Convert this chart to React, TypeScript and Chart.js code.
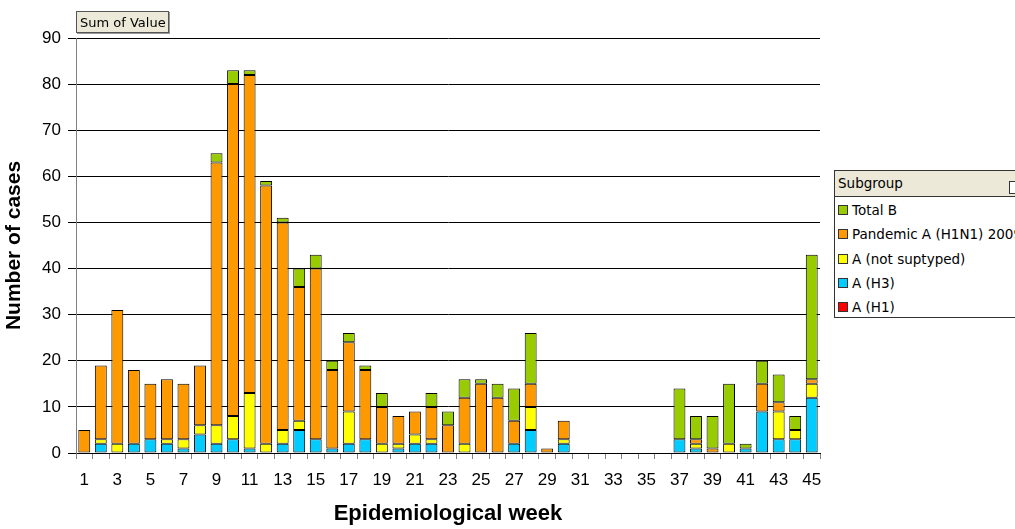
import React, { useEffect, useRef } from "react";
import { Chart, registerables } from "chart.js";

Chart.register(...registerables);

const weeks = [
  "1", "2", "3", "4", "5", "6", "7", "8", "9", "10",
  "11", "12", "13", "14", "15", "16", "17", "18", "19", "20",
  "21", "22", "23", "24", "25", "26", "27", "28", "29", "30",
  "31", "32", "33", "34", "35", "36", "37", "38", "39", "40",
  "41", "42", "43", "44", "45",
];

const aH1 = [
  0, 0, 0, 0, 0, 0, 0, 0, 0, 0,
  0, 0, 0, 0, 0, 0, 0, 0, 0, 0,
  0, 0, 0, 0, 0, 0, 0, 0, 0, 0,
  0, 0, 0, 0, 0, 0, 0, 0, 0, 0,
  0, 0, 0, 0, 0,
];
const aH3 = [
  0, 2, 0, 2, 3, 2, 1, 4, 2, 3,
  1, 0, 2, 5, 3, 1, 2, 3, 0, 1,
  2, 2, 0, 0, 0, 0, 2, 5, 0, 2,
  0, 0, 0, 0, 0, 0, 3, 1, 0, 0,
  1, 9, 3, 3, 12,
];
const aNotSubtyped = [
  0, 1, 2, 0, 0, 1, 2, 2, 4, 5,
  12, 2, 3, 2, 0, 0, 7, 0, 2, 1,
  2, 1, 0, 2, 0, 0, 0, 5, 0, 1,
  0, 0, 0, 0, 0, 0, 0, 1, 0, 2,
  0, 0, 6, 2, 3,
];
const pandemic = [
  5, 16, 29, 16, 12, 13, 12, 13, 57, 72,
  69, 56, 45, 29, 37, 17, 15, 15, 8, 6,
  5, 7, 6, 10, 15, 12, 5, 5, 1, 4,
  0, 0, 0, 0, 0, 0, 0, 1, 1, 0,
  0, 6, 2, 0, 1,
];
const totalB = [
  0, 0, 0, 0, 0, 0, 0, 0, 2, 3,
  1, 1, 1, 4, 3, 2, 2, 1, 3, 0,
  0, 3, 3, 4, 1, 3, 7, 11, 0, 0,
  0, 0, 0, 0, 0, 0, 11, 5, 7, 13,
  1, 5, 6, 3, 27,
];

const yTicks = [0, 10, 20, 30, 40, 50, 60, 70, 80, 90];

const seriesNames = ["A (H1)", "A (H3)", "A (not suptyped)", "Pandemic A (H1N1) 2009", "Total B"];
const seriesColors = ["#FF0000", "#00CCFF", "#FFFF00", "#FF9900", "#99CC00"];
const seriesData = [aH1, aH3, aNotSubtyped, pandemic, totalB];

const FONT = "'Liberation Sans', Arial, sans-serif";
const UI_FONT = "'DejaVu Sans', Tahoma, sans-serif";

export default function App() {
  const ref = useRef<HTMLCanvasElement | null>(null);

  useEffect(() => {
    if (!ref.current) return;
    const chart = new Chart(ref.current, {
      type: "bar",
      data: {
        labels: weeks,
        datasets: seriesData.map((d, i) => ({
          label: seriesNames[i],
          data: d.map((v) => (v === 0 ? null : v)),
          backgroundColor: seriesColors[i],
          borderColor: "#000000",
          borderWidth: 1,
          borderSkipped: false,
          categoryPercentage: 1,
          barPercentage: 0.72,
        })),
      },
      options: {
        animation: false,
        responsive: false,
        maintainAspectRatio: false,
        layout: { padding: { left: 0, top: 38, right: 195, bottom: 0 } },
        plugins: {
          legend: { display: false },
          tooltip: { enabled: false },
        },
        scales: {
          x: {
            stacked: true,
            grid: {
              drawOnChartArea: false,
              offset: true,
              tickLength: 6,
              color: "#808080",
            },
            border: { color: "#000000", width: 1 },
            ticks: {
              autoSkip: false,
              maxRotation: 0,
              minRotation: 0,
              padding: 11,
              color: "#000000",
              font: { size: 17, family: FONT },
              callback: (_v: any, i: number) => (i % 2 === 0 ? weeks[i] : ""),
            },
            title: {
              display: true,
              text: "Epidemiological week",
              color: "#000000",
              font: { size: 22, weight: "bold", family: FONT },
              padding: { top: 2, bottom: 2 },
            },
            afterFit: (s: any) => {
              s.height = 529 - 453;
            },
          },
          y: {
            stacked: true,
            min: 0,
            max: 90,
            afterBuildTicks: (s: any) => {
              s.ticks = yTicks.map((v) => ({ value: v }));
            },
            grid: { color: "#000000", tickLength: 8, lineWidth: 1 },
            border: { color: "#808080", width: 1 },
            ticks: {
              padding: 7,
              color: "#000000",
              font: { size: 17, family: FONT },
            },
            title: {
              display: true,
              text: "Number of cases",
              color: "#000000",
              font: { size: 21, weight: "bold", family: FONT },
              padding: { top: 2, bottom: 2 },
            },
            afterFit: (s: any) => {
              s.width = 76;
            },
          },
        },
      } as any,
    });
    return () => chart.destroy();
  }, []);

  const legendItems = [...seriesNames].reverse().map((n, i) => ({
    name: n,
    color: [...seriesColors].reverse()[i],
  }));

  return (
    <div
      style={{
        position: "fixed",
        left: 0,
        top: 0,
        width: 1015,
        height: 529,
        overflow: "hidden",
        background: "#ffffff",
      }}
    >
      <canvas ref={ref} width={1015} height={529} style={{ position: "absolute", left: 0, top: 0 }} />
      <div
        style={{
          position: "absolute",
          left: 76,
          top: 11,
          width: 93,
          height: 22,
          background: "#ECE9D8",
          border: "1px solid #555",
          boxShadow: "1px 1px 0 #999",
          fontFamily: UI_FONT,
          fontSize: 13,
          lineHeight: "22px",
          paddingLeft: 3,
          boxSizing: "border-box",
          color: "#000",
          whiteSpace: "nowrap",
        }}
      >
        Sum of Value
      </div>
      <div
        style={{
          position: "absolute",
          left: 834,
          top: 170,
          width: 200,
          height: 148,
          border: "1px solid #333",
          background: "#ffffff",
          boxSizing: "border-box",
          fontFamily: UI_FONT,
          color: "#000",
        }}
      >
        <div
          style={{
            height: 26,
            background: "#ECE9D8",
            borderBottom: "1px solid #333",
            fontSize: 13.5,
            lineHeight: "24px",
            paddingLeft: 3,
            position: "relative",
            boxSizing: "border-box",
          }}
        >
          Subgroup
          <div
            style={{
              position: "absolute",
              left: 174,
              top: 10,
              width: 14,
              height: 13,
              border: "1px solid #333",
              background: "#ffffff",
              boxSizing: "border-box",
            }}
          />
        </div>
        {legendItems.map((it, i) => (
          <div
            key={i}
            style={{
              position: "absolute",
              left: 3,
              top: 30 + i * 24.3,
              height: 18,
              display: "flex",
              alignItems: "center",
              whiteSpace: "nowrap",
              fontSize: 13.5,
            }}
          >
            <span
              style={{
                display: "inline-block",
                width: 10,
                height: 10,
                background: it.color,
                border: "1px solid #333",
                boxSizing: "border-box",
                marginRight: 4,
              }}
            />
            {it.name}
          </div>
        ))}
      </div>
    </div>
  );
}
